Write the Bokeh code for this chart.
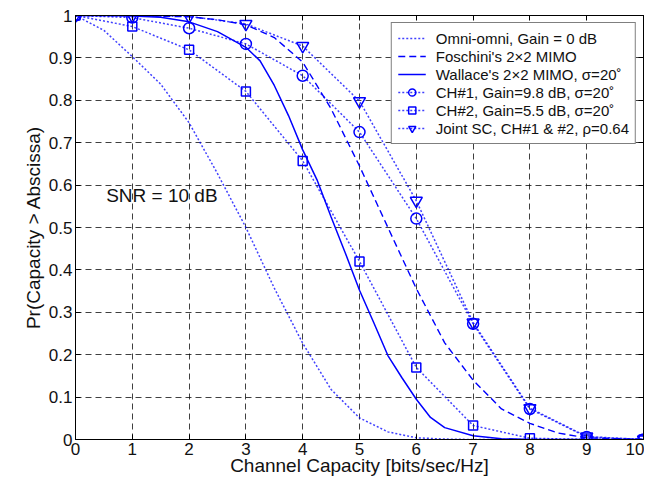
from bokeh.plotting import figure
from bokeh.models import (Range1d, FixedTicker, LinearAxis, Legend, LegendItem,
                          Label, CustomJSTickFormatter)
from bokeh.embed import file_html
from bokeh.resources import INLINE

# ---- data ----
x_ticks = [0, 1, 2, 3, 4, 5, 6, 7, 8, 9, 10]
y_ticks = [0, 0.1, 0.2, 0.3, 0.4, 0.5, 0.6, 0.7, 0.8, 0.9, 1.0]

omni_x = [0, 0.5, 1, 1.5, 2, 2.5, 3, 3.5, 4, 4.5, 5, 5.5, 6, 6.5, 7, 8, 9, 10]
omni_y = [1.0, 0.965, 0.903, 0.838, 0.747, 0.627, 0.50, 0.357, 0.227, 0.118,
          0.051, 0.018, 0.004, 0.001, 0.0, 0.0, 0.0, 0.0]

fosch_x = [0, 1, 2, 2.5, 3, 3.5, 4, 4.5, 5, 5.5, 6, 6.5, 7, 7.5, 8, 8.5, 9, 10]
fosch_y = [1.0, 1.0, 0.997, 0.99, 0.978, 0.948, 0.89, 0.78, 0.645, 0.50, 0.356,
           0.228, 0.14, 0.072, 0.038, 0.015, 0.004, 0.0]

wall_x = [0, 0.5, 1, 1.5, 2, 2.5, 3, 3.25, 3.5, 3.75, 4, 4.25, 4.5, 4.75, 5,
          5.25, 5.5, 5.75, 6, 6.25, 6.5, 7, 7.5, 8, 9, 10]
wall_y = [1.0, 1.0, 0.999, 0.996, 0.985, 0.962, 0.925, 0.893, 0.835, 0.764,
          0.683, 0.613, 0.525, 0.44, 0.352, 0.276, 0.198, 0.145, 0.095, 0.052,
          0.028, 0.009, 0.002, 0.0, 0.0, 0.0]

cap_x = [0, 1, 2, 3, 4, 5, 6, 7, 8, 9, 10]
ch1_y = [1.0, 0.995, 0.970, 0.933, 0.858, 0.725, 0.521, 0.273, 0.072, 0.006, 0.0]
ch2_y = [1.0, 0.974, 0.919, 0.821, 0.657, 0.420, 0.170, 0.033, 0.003, 0.0, 0.0]
joint_y = [1.0, 0.999, 0.998, 0.980, 0.928, 0.798, 0.563, 0.276, 0.074, 0.007, 0.0]

labels = ["Omni-omni, Gain = 0 dB",
          "Foschini's 2×2 MIMO",
          "Wallace's 2×2 MIMO, σ=20˚",
          "CH#1, Gain=9.8 dB, σ=20˚",
          "CH#2, Gain=5.5 dB, σ=20˚",
          "Joint SC, CH#1 & #2, ρ=0.64"]

FONT = "Liberation Sans"
BLUE = "#0000ff"
DOT = "2 2"

p = figure(width=644, height=478, output_backend="svg", toolbar_location=None,
           x_range=Range1d(0, 10), y_range=Range1d(0, 1),
           min_border_left=75, min_border_right=1, min_border_top=15,
           min_border_bottom=39, background_fill_color="white",
           border_fill_color="white")
p.outline_line_color = "black"
p.outline_line_width = 1

# axes
xa = p.xaxis[0]
ya = p.yaxis[0]
xa.ticker = FixedTicker(ticks=x_ticks)
ya.ticker = FixedTicker(ticks=y_ticks)
ya.formatter = CustomJSTickFormatter(code="return tick.toFixed(1).replace(/\\.0$/, '');")
for ax in (xa, ya):
    ax.major_tick_in = 5
    ax.major_tick_out = 0
    ax.minor_tick_line_color = None
    ax.axis_line_color = "black"
    ax.major_tick_line_color = "black"
    ax.major_label_text_font = FONT
    ax.major_label_text_font_size = "17px"
    ax.major_label_text_color = "#111111"
    ax.axis_label_text_font = FONT
    ax.axis_label_text_font_size = "19px"
    ax.axis_label_text_font_style = "normal"
    ax.axis_label_text_color = "#111111"
    ax.major_label_standoff = 3
xa.axis_label = "Channel Capacity [bits/sec/Hz]"
ya.axis_label = "Pr(Capacity > Abscissa)"
xa.axis_label_standoff = -3
ya.axis_label_standoff = 2

for loc, tk in (("above", x_ticks), ("right", y_ticks)):
    ax = LinearAxis(ticker=FixedTicker(ticks=tk), major_tick_in=5, major_tick_out=0,
                    minor_tick_line_color=None, major_label_text_color=None,
                    major_label_text_font_size="1px",
                    major_label_standoff=0, axis_line_color="black")
    p.add_layout(ax, loc)

# grid
for g, tk in ((p.xgrid[0], x_ticks), (p.ygrid[0], y_ticks)):
    g.ticker = FixedTicker(ticks=tk)
    g.grid_line_color = "black"
    g.grid_line_alpha = 0.75
    g.grid_line_dash = "6 4"
    g.grid_line_width = 1

# curves
r_omni = p.line(omni_x, omni_y, line_color=BLUE, line_width=1.5, line_dash=DOT, line_alpha=0.75)
r_fosch = p.line(fosch_x, fosch_y, line_color=BLUE, line_width=1.4, line_dash="7 4")
r_wall = p.line(wall_x, wall_y, line_color=BLUE, line_width=1.5)

r_ch1l = p.line(cap_x, ch1_y, line_color=BLUE, line_width=1.5, line_dash=DOT, line_alpha=0.75)
r_ch1m = p.scatter(cap_x, ch1_y, marker="circle", size=11, fill_color=None,
                   line_color=BLUE, line_width=1.5)
r_ch2l = p.line(cap_x, ch2_y, line_color=BLUE, line_width=1.5, line_dash=DOT, line_alpha=0.75)
r_ch2m = p.scatter(cap_x, ch2_y, marker="square", size=9, fill_color=None,
                   line_color=BLUE, line_width=1.5)
r_jl = p.line(cap_x, joint_y, line_color=BLUE, line_width=1.5, line_dash=DOT, line_alpha=0.75)
r_jm = p.scatter(cap_x, joint_y, marker="inverted_triangle", size=12, fill_color=None,
                 line_color=BLUE, line_width=1.5)

items = [LegendItem(label=labels[0], renderers=[r_omni]),
         LegendItem(label=labels[1], renderers=[r_fosch]),
         LegendItem(label=labels[2], renderers=[r_wall]),
         LegendItem(label=labels[3], renderers=[r_ch1l, r_ch1m]),
         LegendItem(label=labels[4], renderers=[r_ch2l, r_ch2m]),
         LegendItem(label=labels[5], renderers=[r_jl, r_jm])]
legend = Legend(items=items, location="top_right", margin=7, padding=6, spacing=0,
                label_text_font=FONT, label_text_font_size="15px",
                label_text_color="#111111", label_height=18, glyph_height=18,
                glyph_width=28, label_standoff=10, label_width=190,
                border_line_color="black", border_line_width=1,
                background_fill_color="white", background_fill_alpha=1.0)
p.add_layout(legend)

p.add_layout(Label(x=0.54, y=0.575, text="SNR = 10 dB", text_font=FONT,
                   text_font_size="19px", text_baseline="middle",
                   text_color="#111111"))

open("out.html", "w").write(file_html(p, INLINE))
